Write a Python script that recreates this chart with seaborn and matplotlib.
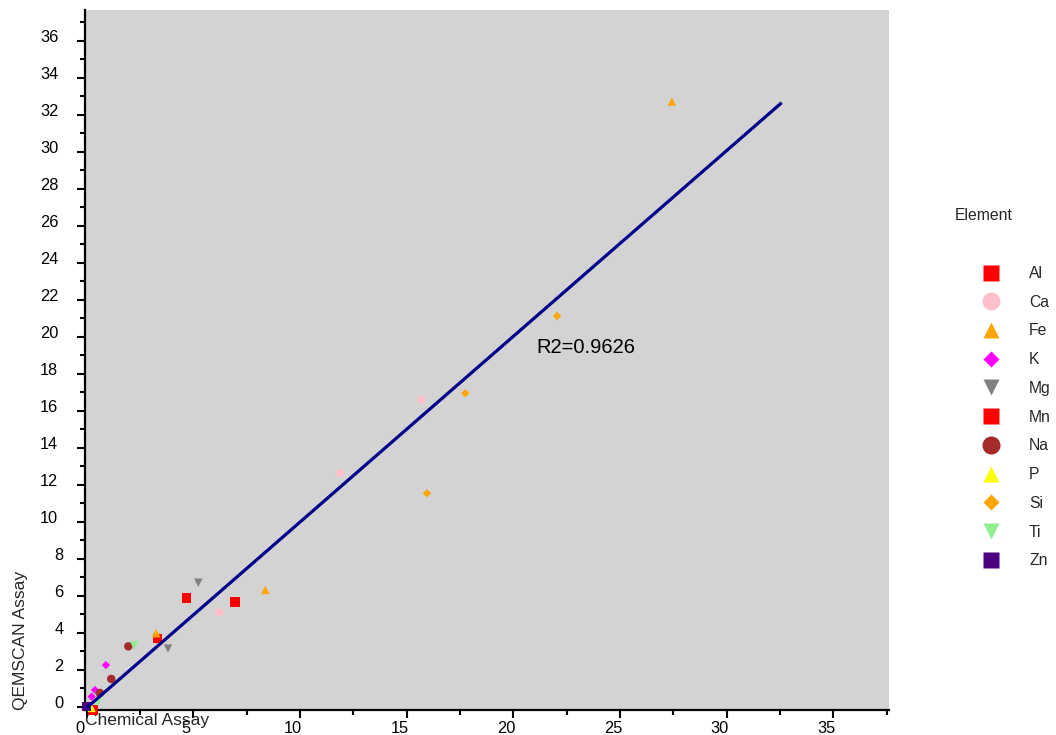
import numpy as np
import pandas as pd
import matplotlib
matplotlib.use("Agg")
import matplotlib.pyplot as plt
from matplotlib.lines import Line2D
from matplotlib.ticker import MultipleLocator
from matplotlib.transforms import ScaledTranslation
import seaborn as sns

# ---- data -------------------------------------------------------------
elements = ["Al", "Ca", "Fe", "K", "Mg", "Mn", "Na", "P", "Si", "Ti", "Zn"]

sample_element = ["Al", "Al", "Al",
                  "Ca", "Ca", "Ca",
                  "Fe", "Fe", "Fe",
                  "K", "K", "K",
                  "Mg", "Mg", "Mg",
                  "Mn",
                  "Na", "Na", "Na",
                  "P",
                  "Si", "Si", "Si",
                  "Ti", "Ti",
                  "Zn"]
chemical_assay = [4.67, 6.95, 3.31,
                  15.69, 11.87, 6.22,
                  27.43, 8.37, 3.26,
                  0.90, 0.39, 0.23,
                  5.23, 3.81, 0.55,
                  0.30,
                  1.95, 1.15, 0.62,
                  0.23,
                  22.05, 17.75, 15.95,
                  2.22, 0.53,
                  0.00]
qemscan_assay = [5.88, 5.66, 3.68,
                 16.58, 12.63, 5.10,
                 32.71, 6.31, 3.97,
                 2.25, 0.90, 0.54,
                 6.70, 3.14, 0.60,
                 -0.18,
                 3.26, 1.50, 0.74,
                 -0.07,
                 21.12, 16.94, 11.54,
                 3.32, 0.25,
                 0.00]

# regression line through the samples
fit_slope = 1.004
fit_intercept = -0.06
fit_x = [0.0, 32.58]
r2_label = "R2=0.9626"

# ---- styling ----------------------------------------------------------
colors = {"Al": "#FF0000", "Ca": "#FFC0CB", "Fe": "#FFA500", "K": "#FF00FF",
          "Mg": "#808080", "Mn": "#FF0000", "Na": "#A52A2A", "P": "#FFFF00",
          "Si": "#FFA500", "Ti": "#90EE90", "Zn": "#4B0082"}
markers = {"Al": "s", "Ca": "o", "Fe": "^", "K": "D", "Mg": "v", "Mn": "s",
           "Na": "o", "P": "^", "Si": "D", "Ti": "v", "Zn": "s"}
shape_area = {"s": 45, "o": 37, "^": 37, "v": 37, "D": 18}
shape_legend = {"s": 12.2, "o": 13.0, "^": 12.2, "v": 12.2, "D": 8.1}
point_sizes = {e: shape_area[markers[e]] for e in elements}

sns.set_theme(style="ticks")
plt.rcParams["font.family"] = ["Liberation Sans", "DejaVu Sans"]

df = pd.DataFrame({"Element": sample_element,
                   "Chemical": chemical_assay,
                   "QEMSCAN": qemscan_assay})

W, H = 1056, 735
fig = plt.figure(figsize=(W / 100, H / 100), dpi=100)
ax = fig.add_axes([85 / W, 1 - 710 / H, (889 - 85) / W, (710 - 10) / H])
ax.set_facecolor("#D3D3D3")

sns.scatterplot(data=df, x="Chemical", y="QEMSCAN",
                hue="Element", style="Element", size="Element",
                hue_order=elements, style_order=elements, size_order=elements,
                palette=colors, markers=markers, sizes=point_sizes,
                linewidth=0, edgecolor="none", legend=False, ax=ax,
                zorder=3, clip_on=False)

fit_y = [fit_intercept + fit_slope * v for v in fit_x]
ax.plot(fit_x, fit_y, color="#00008B", lw=2.3, zorder=4,
        solid_capstyle="butt")

ax.text(21.06, 19.39, r2_label, ha="left", va="center", fontsize=14.5,
        color="black")

ax.set_xlim(-0.08, 37.61)
ax.set_ylim(-0.18, 37.66)
ax.xaxis.set_major_locator(MultipleLocator(5))
ax.xaxis.set_minor_locator(MultipleLocator(2.5))
ax.yaxis.set_major_locator(MultipleLocator(2))
ax.yaxis.set_minor_locator(MultipleLocator(1))

for side in ("top", "right"):
    ax.spines[side].set_visible(False)
for side in ("left", "bottom"):
    ax.spines[side].set_linewidth(1.6)
    ax.spines[side].set_color("black")

ax.tick_params(which="major", direction="out", length=5.6, width=1.5,
               color="black", labelsize=11.8, labelcolor="black")
ax.tick_params(which="minor", direction="out", length=3.6, width=1.5,
               color="black")
ax.tick_params(axis="x", which="major", pad=2.4)
ax.tick_params(axis="y", which="major", pad=10)

ax.set_xlabel("Chemical Assay", fontsize=12.5, ha="left", va="center")
ax.xaxis.set_label_coords(0.0, (710 - 720) / 700)
ax.set_ylabel("QEMSCAN Assay", fontsize=12.5, ha="left", va="center")
ax.yaxis.set_label_coords((20 - 85) / 804, 0.0)

fig.canvas.draw()
for lab in ax.get_xticklabels():
    lab.set_transform(lab.get_transform() +
                      ScaledTranslation(-7 / 100, 0, fig.dpi_scale_trans))
for lab in ax.get_yticklabels():
    dx = -5 if len(lab.get_text()) > 1 else 0
    lab.set_transform(lab.get_transform() +
                      ScaledTranslation(dx / 100, 5 / 100, fig.dpi_scale_trans))

# legend
handles = [Line2D([], [], linestyle="none", marker=markers[e],
                  markersize=shape_legend[markers[e]],
                  markerfacecolor=colors[e], markeredgecolor="none")
           for e in elements]
fig.legend(handles, elements, loc="upper left",
           bbox_to_anchor=(975.7 / W, 1 - 266 / H), frameon=False,
           fontsize=11.3, handlelength=2.0, handletextpad=1.4,
           labelspacing=0.875, borderpad=0, borderaxespad=0)
fig.text(984 / W, 1 - 215 / H, "Element", ha="center", va="center",
         fontsize=11.3)

fig.savefig("out.png", dpi=100)
